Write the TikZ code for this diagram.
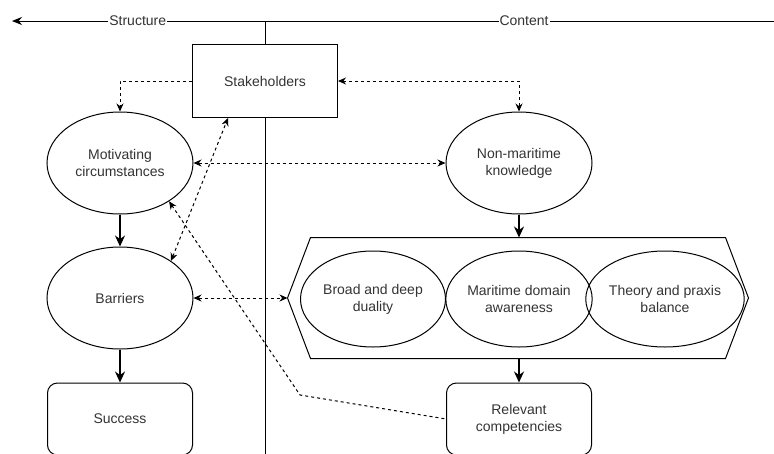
\documentclass[tikz,border=0pt]{standalone}
\usepackage{fontspec}
\setmainfont{Liberation Sans}
\usetikzlibrary{shapes.geometric,arrows.meta}

\begin{document}
\begin{tikzpicture}[x=1pt, y=-1pt, line width=1pt,
    every node/.style={font=\fontsize{14}{17}\selectfont, text=black!80, align=center},
    oval/.style={draw, ellipse, inner sep=0pt, minimum width=146pt, minimum height=102pt},
    inoval/.style={draw, ellipse, inner sep=0pt, minimum width=145pt, minimum height=96pt},
    box/.style={draw, rectangle, minimum width=145pt, minimum height=73pt},
    rbox/.style={draw, rectangle, rounded corners=10pt, minimum width=145pt, minimum height=72pt},
    lbl/.style={fill=white, inner sep=1pt},
    flow/.style={line width=2pt, -{Stealth[length=11pt, width=10pt]}},
    link/.style={dash pattern=on 3pt off 3pt, -{Stealth[length=8pt, width=7pt]}},
    links/.style={dash pattern=on 3pt off 3pt, {Stealth[length=8pt, width=7pt]}-{Stealth[length=8pt, width=7pt]}}]
    \useasboundingbox (0,0) rectangle (774,453);

    % top axis
    \coordinate (topR) at (774,21);
    \coordinate (topL) at (12,21);
    \coordinate (divtop) at (265,21);
    \coordinate (divbot) at (265,460);
    \draw[-{Stealth[length=10pt, width=8pt]}] (topR) -- node[lbl, pos=0.328] (cont) {Content}
        node[lbl, pos=0.835] (struc) {Structure} (topL);

    % nodes
    \node[box] (stake) at (265,81) {Stakeholders};
    \node[oval] (motiv) at (120,163) {Motivating\\circumstances};
    \node[oval] (barr) at (120,298) {Barriers};
    \node[rbox] (succ) at (120,419) {Success};
    \node[oval] (nonmar) at (519,163) {Non-maritime\\knowledge};
    \node[rbox] (rel) at (519,419) {Relevant\\competencies};

    % competency group
    \node[minimum width=414pt, minimum height=120pt, inner sep=0pt] (hexbox) at (518,298) {};
    \coordinate (hexL) at ([xshift=-23pt]hexbox.west);
    \coordinate (hexR) at ([xshift=23pt]hexbox.east);
    \draw (hexbox.north west) -- (hexbox.north east) -- (hexR) -- (hexbox.south east)
        -- (hexbox.south west) -- (hexL) -- cycle;
    \node[inoval] (broad) at (373,299) {Broad and deep\\duality};
    \node[inoval] (mda) at (519,299) {Maritime domain\\awareness};
    \node[inoval] (theory) at (665,299) {Theory and praxis\\balance};

    % divider
    \draw (divtop) -- (stake.north);
    \draw (stake.south) -- (divbot);

    % main flow
    \draw[flow] (motiv) -- (barr);
    \draw[flow] (barr) -- (succ);
    \draw[flow] (nonmar.south) -- (hexbox.north -| nonmar.south);
    \draw[flow] (hexbox.south -| rel.north) -- (rel.north);

    % dashed links
    \coordinate (kink) at (300,395);
    \draw[link] (stake.west) -| (motiv.north);
    \draw[links] (stake.east) -| (nonmar.north);
    \draw[links] (motiv.east) -- (nonmar.west);
    \draw[links] (barr.east) -- (hexL);
    \draw[links] (barr.36) -- ([xshift=-37pt]stake.south);
    \draw[link, {Stealth[length=8pt, width=7pt]}-] (motiv.-38) -- (kink) -- (rel.west);
\end{tikzpicture}
\end{document}
